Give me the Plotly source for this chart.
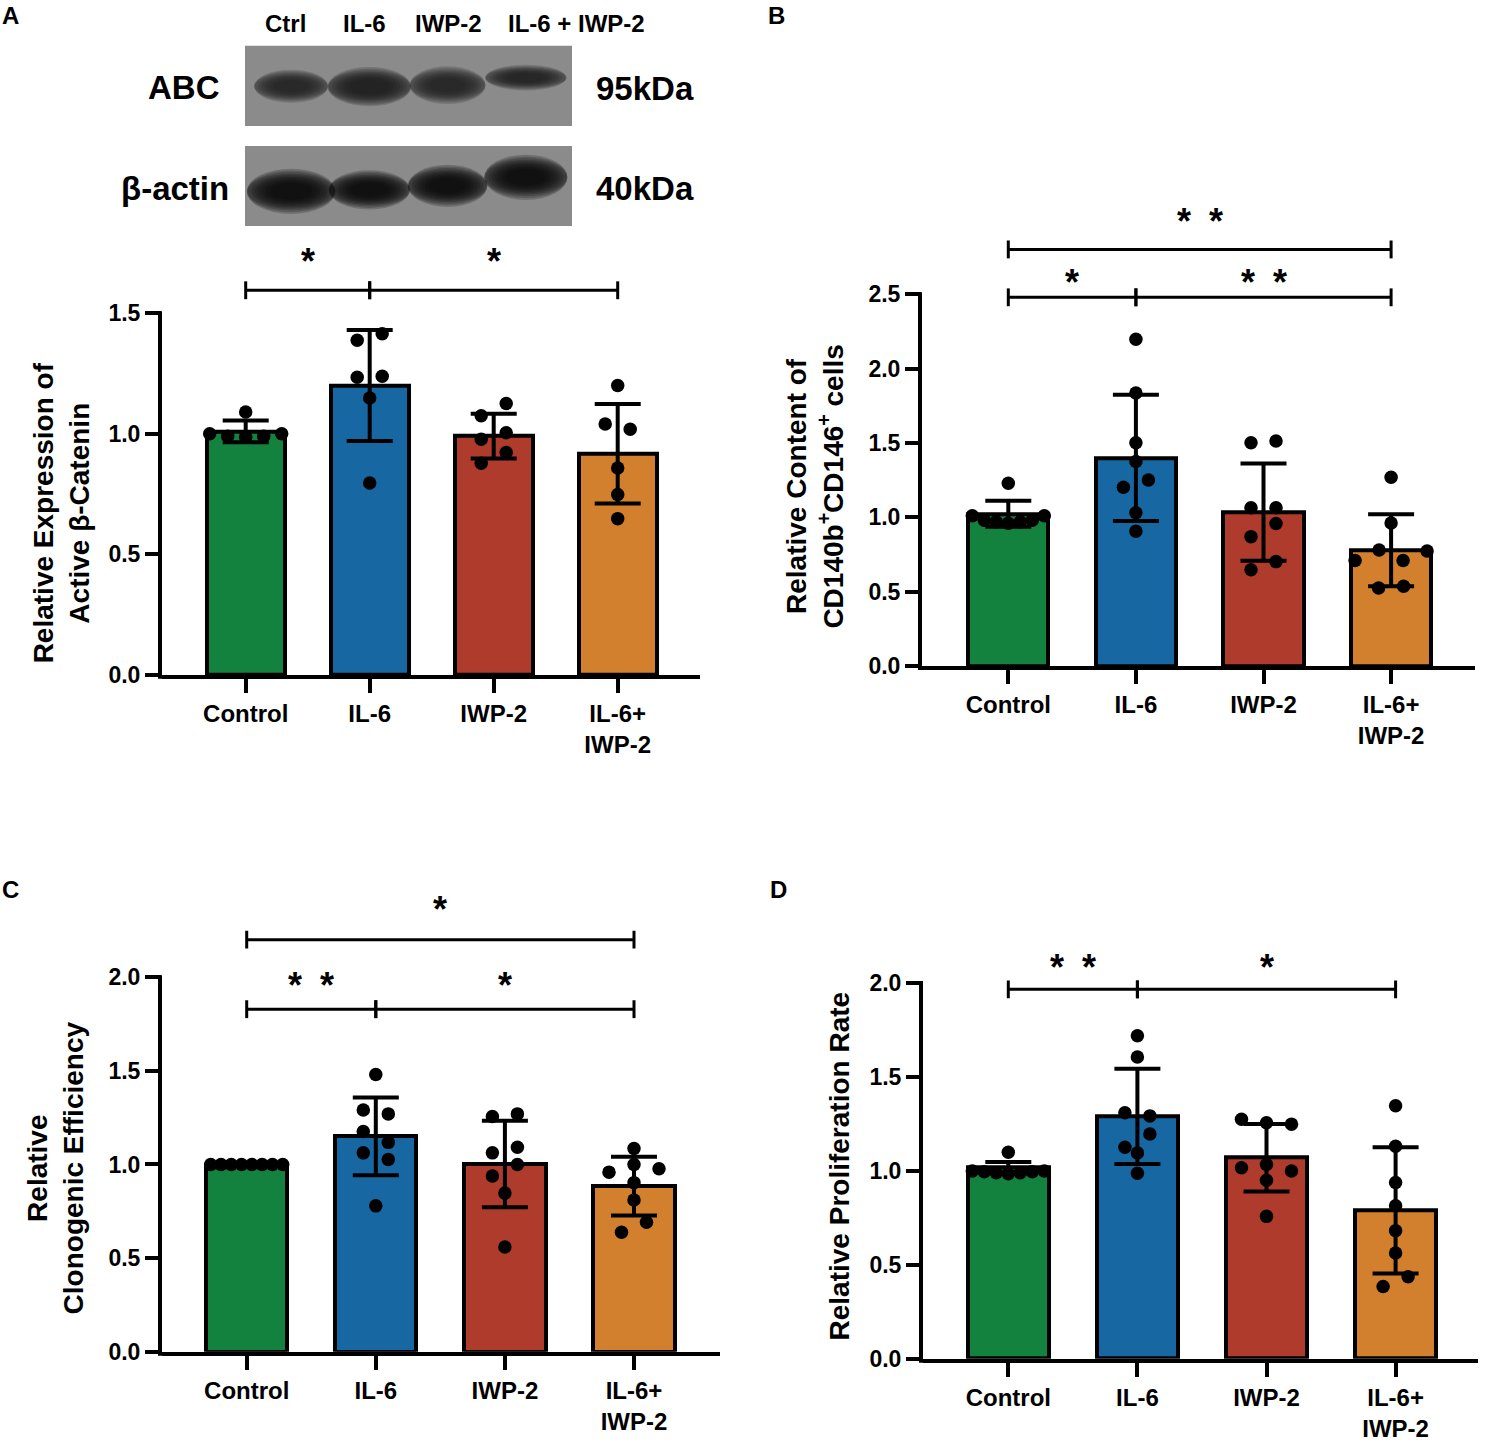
import plotly.graph_objects as go

W, H = 1492, 1450
FONT = "Liberation Sans, Arial, Helvetica, sans-serif"

groups = ["Control", "IL-6", "IWP-2", "IL-6+<br>IWP-2"]
bar_colors = ["#13823f", "#1767a3", "#ae3b2b", "#d2802e"]
lanes = ["Ctrl", "IL-6", "IWP-2", "IL-6 + IWP-2"]

# A: active beta-catenin (western blot quantification)
a_mean = [1.01, 1.20, 0.99, 0.917]
a_sd = [0.045, 0.23, 0.093, 0.206]
a_points = [
    [1.09, 1.0, 0.99, 0.985, 0.99, 1.0],
    [1.388, 1.415, 1.234, 1.238, 1.148, 0.796],
    [1.075, 1.125, 0.977, 1.004, 0.878, 0.922],
    [1.20, 1.04, 1.019, 0.858, 0.748, 0.648],
]
a_ticks = [0.0, 0.5, 1.0, 1.5]

# B: CD140b+CD146+ cells
b_mean = [1.024, 1.40, 1.035, 0.778]
b_sd = [0.087, 0.425, 0.327, 0.242]
b_points = [
    [1.229, 1.01, 0.98, 0.97, 0.96, 0.97, 0.98, 1.01],
    [2.198, 1.836, 1.502, 1.376, 1.202, 1.251, 1.031, 0.907],
    [1.502, 1.513, 1.064, 1.064, 0.87, 0.958, 0.647, 0.702],
    [1.269, 0.962, 0.709, 0.78, 0.709, 0.773, 0.524, 0.536],
]
b_ticks = [0.0, 0.5, 1.0, 1.5, 2.0, 2.5]

# C: clonogenic efficiency
c_mean = [1.0, 1.15, 1.002, 0.884]
c_sd = [0.0, 0.2075, 0.231, 0.157]
c_points = [
    [1.0, 1.0, 1.0, 1.0, 1.0, 1.0, 1.0, 1.0],
    [1.48, 1.291, 1.27, 1.176, 1.118, 1.062, 1.026, 0.779],
    [1.256, 1.27, 1.062, 1.092, 0.938, 1.0, 0.847, 0.559],
    [1.085, 0.959, 1.0, 0.977, 0.903, 0.81, 0.638, 0.691],
]
c_ticks = [0.0, 0.5, 1.0, 1.5, 2.0]

# D: proliferation rate
d_mean = [1.017, 1.29, 1.07, 0.79]
d_sd = [0.03, 0.2535, 0.18, 0.336]
d_points = [
    [1.099, 1.0, 0.995, 0.99, 0.985, 0.99, 0.995, 1.0],
    [1.72, 1.606, 1.31, 1.293, 1.126, 1.196, 1.096, 0.987],
    [1.275, 1.256, 1.249, 1.017, 1.034, 0.999, 0.95, 0.758],
    [1.347, 1.131, 0.938, 0.814, 0.682, 0.563, 0.384, 0.436],
]
d_ticks = [0.0, 0.5, 1.0, 1.5, 2.0]

# significance brackets: (from group, to group, bracket y, label y, label)
a_sig = [(0, 1, 1.595, 1.73, "*"), (1, 3, 1.595, 1.73, "*")]
b_sig = [(0, 1, 2.48, 2.607, "*"), (1, 3, 2.48, 2.607, "**"),
         (0, 3, 2.802, 3.02, "**")]
c_sig = [(0, 1, 1.829, 1.979, "**"), (1, 3, 1.829, 1.979, "*"),
         (0, 3, 2.2, 2.384, "*")]
d_sig = [(0, 1, 1.967, 2.105, "**"), (1, 3, 1.967, 2.105, "*")]

# western blot band look (per lane)
abc_intensity = [0.9, 1.0, 0.9, 0.85]
actin_intensity = [1.0, 1.0, 1.0, 1.0]


def X(p):
    return p / W


def Y(p):
    return 1 - p / H


def spread(values, ypx, xpx, gap=14.5, step=25, max_half=36):
    """GraphPad-like scatter: points close in value share a row, centred."""
    order = sorted(range(len(values)), key=lambda i: -values[i])
    rows = []
    for i in order:
        if rows and (values[rows[-1][0]] - values[i]) * ypx <= gap:
            rows[-1].append(i)
        else:
            rows.append([i])
    offs = [0.0] * len(values)
    for row in rows:
        row = sorted(row)
        k = len(row)
        s = step if k < 2 else min(step, 2 * max_half / (k - 1))
        for j, i in enumerate(row):
            offs[i] = (j - (k - 1) / 2) * s / xpx
    return offs


fig = go.Figure()
shapes, annotations = [], []


def add_panel(n, g, means, sds, points, ticks, sig, title, title_xy, letter, letter_xy):
    xr = "x" if n == 1 else f"x{n}"
    yr = "y" if n == 1 else f"y{n}"
    ypx = (g["zero"] - g["top_px"]) / ticks[-1]
    xpx = g["step"]
    cats = list(range(len(groups)))

    fig.add_trace(go.Bar(
        x=cats, y=means, width=0.63, xaxis=xr, yaxis=yr,
        marker=dict(color=bar_colors, line=dict(color="black", width=4)),
        error_y=dict(type="data", array=sds, visible=True, color="black",
                     thickness=4, width=23),
        hoverinfo="skip",
    ))
    px, py = [], []
    for k, vals in enumerate(points):
        offs = spread(vals, ypx, xpx)
        px += [k + o for o in offs]
        py += vals
    fig.add_trace(go.Scatter(
        x=px, y=py, mode="markers", xaxis=xr, yaxis=yr,
        marker=dict(color="black", size=13.5, line=dict(width=0)),
        cliponaxis=False, hoverinfo="skip",
    ))

    ymax = (g["zero"] - g["top"]) / ypx
    fig.layout["xaxis" if n == 1 else f"xaxis{n}"] = dict(
        domain=[X(g["left"]), X(g["right"])],
        range=[(g["left"] - g["cat0"]) / xpx, (g["right"] - g["cat0"]) / xpx],
        anchor=yr, showline=True, linewidth=4, linecolor="black",
        ticks="outside", ticklen=14, tickwidth=4, tickcolor="black",
        tickvals=cats, ticktext=groups, showgrid=False, zeroline=False,
        tickfont=dict(family=FONT, size=24, color="black", weight="bold"),
        fixedrange=True,
    )
    fig.layout["yaxis" if n == 1 else f"yaxis{n}"] = dict(
        domain=[Y(g["zero"]), Y(g["top"])], range=[0, ymax],
        anchor=xr, showline=False, ticks="outside", ticklen=16,
        tickwidth=4, tickcolor="black", tickvals=ticks,
        ticktext=[f"{t:.1f}" for t in ticks], showgrid=False, zeroline=False,
        tickfont=dict(family=FONT, size=23, color="black", weight="bold"),
        fixedrange=True,
    )
    # y axis line stops at the top tick
    shapes.append(dict(type="line", xref="paper", yref="paper",
                       x0=X(g["left"] - 2), x1=X(g["left"] - 2),
                       y0=Y(g["zero"] + 4), y1=Y(g["top_px"] - 2),
                       line=dict(color="black", width=4)))

    tick = 9 / ypx
    for i, j, yb, ys, lab in sig:
        shapes.append(dict(type="line", xref=xr, yref=yr, x0=i, x1=j,
                           y0=yb, y1=yb, line=dict(color="black", width=3)))
        for e in (i, j):
            shapes.append(dict(type="line", xref=xr, yref=yr, x0=e, x1=e,
                               y0=yb - tick, y1=yb + tick,
                               line=dict(color="black", width=3)))
        annotations.append(dict(
            x=(i + j) / 2, y=ys, xref=xr, yref=yr, showarrow=False,
            text="*\u2002*" if lab == "**" else "*", yshift=-4,
            font=dict(family=FONT, size=36, color="black", weight="bold"),
        ))

    annotations.append(dict(
        x=X(title_xy[0]), y=Y(title_xy[1]), xref="paper", yref="paper",
        text=title, textangle=-90, showarrow=False, xanchor="center",
        yanchor="middle",
        font=dict(family=FONT, size=28, color="black", weight="bold"),
    ))
    annotations.append(dict(
        x=X(letter_xy[0]), y=Y(letter_xy[1]), xref="paper", yref="paper",
        text=letter, showarrow=False, xanchor="center", yanchor="middle",
        font=dict(family=FONT, size=24, color="black", weight="bold"),
    ))


geom_a = dict(left=162, right=700, zero=681, top_px=316, top=243, cat0=245.7, step=124.0)
geom_b = dict(left=922, right=1475, zero=672, top_px=297, top=207, cat0=1008.3, step=127.6)
geom_c = dict(left=162, right=720, zero=1364, top_px=986, top=901, cat0=246.7, step=129.1)
geom_d = dict(left=923, right=1478, zero=1371, top_px=992, top=964, cat0=1008.3, step=129.1)

add_panel(1, geom_a, a_mean, a_sd, a_points, a_ticks, a_sig,
          "Relative Expression of<br>Active β-Catenin", (61, 518), "A", (10, 16))
add_panel(2, geom_b, b_mean, b_sd, b_points, b_ticks, b_sig,
          "Relative Content of<br>CD140b<sup>+</sup>CD146<sup>+</sup> cells",
          (815, 491), "B", (777, 16))
add_panel(3, geom_c, c_mean, c_sd, c_points, c_ticks, c_sig,
          "Relative<br>Clonogenic Efficiency", (55, 1179), "C", (10, 898))
add_panel(4, geom_d, d_mean, d_sd, d_points, d_ticks, d_sig,
          "Relative Proliferation Rate", (839, 1177), "D", (778, 898))

# western blot, drawn on its own hidden axes (lanes x rows)
fig.add_trace(go.Scatter(x=[0, 3], y=[0, 1], mode="markers", xaxis="x5",
                         yaxis="y5", marker=dict(opacity=0), hoverinfo="skip"))
fig.layout.xaxis5 = dict(domain=[X(245), X(572)], range=[-0.59, 3.59],
                         anchor="y5", visible=False, fixedrange=True)
fig.layout.yaxis5 = dict(domain=[Y(228), Y(46)], range=[1.394, -0.399],
                         anchor="x5", visible=False, fixedrange=True)

for row in (0, 1):
    shapes.append(dict(type="rect", xref="x5 domain", yref="y5", x0=0, x1=1,
                       y0=row - 0.4, y1=row + 0.4, fillcolor="#8b8b8b",
                       line=dict(width=0), layer="below"))

band_half_w = [[0.40, 0.45, 0.41, 0.44], [0.48, 0.44, 0.43, 0.45]]
band_half_h = [[0.11, 0.13, 0.125, 0.085], [0.15, 0.13, 0.14, 0.15]]
band_shift = [[0.005, 0.01, -0.005, -0.08], [0.05, 0.035, -0.005, -0.09]]
layer_scale = [1.5, 1.38, 1.26, 1.15, 1.06, 0.97, 0.88, 0.78, 0.68, 0.56]
for row, (inten, col) in enumerate([(abc_intensity, "#1a1a1a"),
                                    (actin_intensity, "#060606")]):
    for k in range(len(lanes)):
        hw, hh = band_half_w[row][k], band_half_h[row][k]
        cy = row + band_shift[row][k]
        for s in layer_scale:
            shapes.append(dict(type="circle", xref="x5", yref="y5",
                               x0=k - hw * min(s, 1.18), x1=k + hw * min(s, 1.18),
                               y0=cy - hh * s, y1=cy + hh * s,
                               fillcolor=col, opacity=0.2 * inten[k],
                               line=dict(width=0)))

blot_labels = [(lanes[0], 285, 23.5, 24), (lanes[1], 364, 23.5, 24),
               (lanes[2], 449, 23.5, 24), (lanes[3], 576, 23.5, 24),
               ("ABC", 184, 88, 33), ("β-actin", 175, 190, 33),
               ("95kDa", 645, 89, 33), ("40kDa", 645, 190, 33)]
for txt, bx, by, fs in blot_labels:
    annotations.append(dict(
        x=X(bx), y=Y(by), xref="paper", yref="paper", text=txt,
        showarrow=False, xanchor="center", yanchor="middle",
        font=dict(family=FONT, size=fs, color="black", weight="bold"),
    ))

fig.update_layout(
    width=W, height=H, margin=dict(l=0, r=0, t=0, b=0),
    paper_bgcolor="white", plot_bgcolor="rgba(0,0,0,0)",
    showlegend=False, bargap=0,
    font=dict(family=FONT, size=24, color="black", weight="bold"),
    shapes=shapes, annotations=annotations,
)

fig.write_html(
    "out.html",
    config={"displayModeBar": False},
    post_script=(
        "document.documentElement.style.overflow='hidden';"
        "document.body.style.margin='0';"
        "document.body.style.overflow='hidden';"
        "document.body.style.height='1450px';"
    ),
)
